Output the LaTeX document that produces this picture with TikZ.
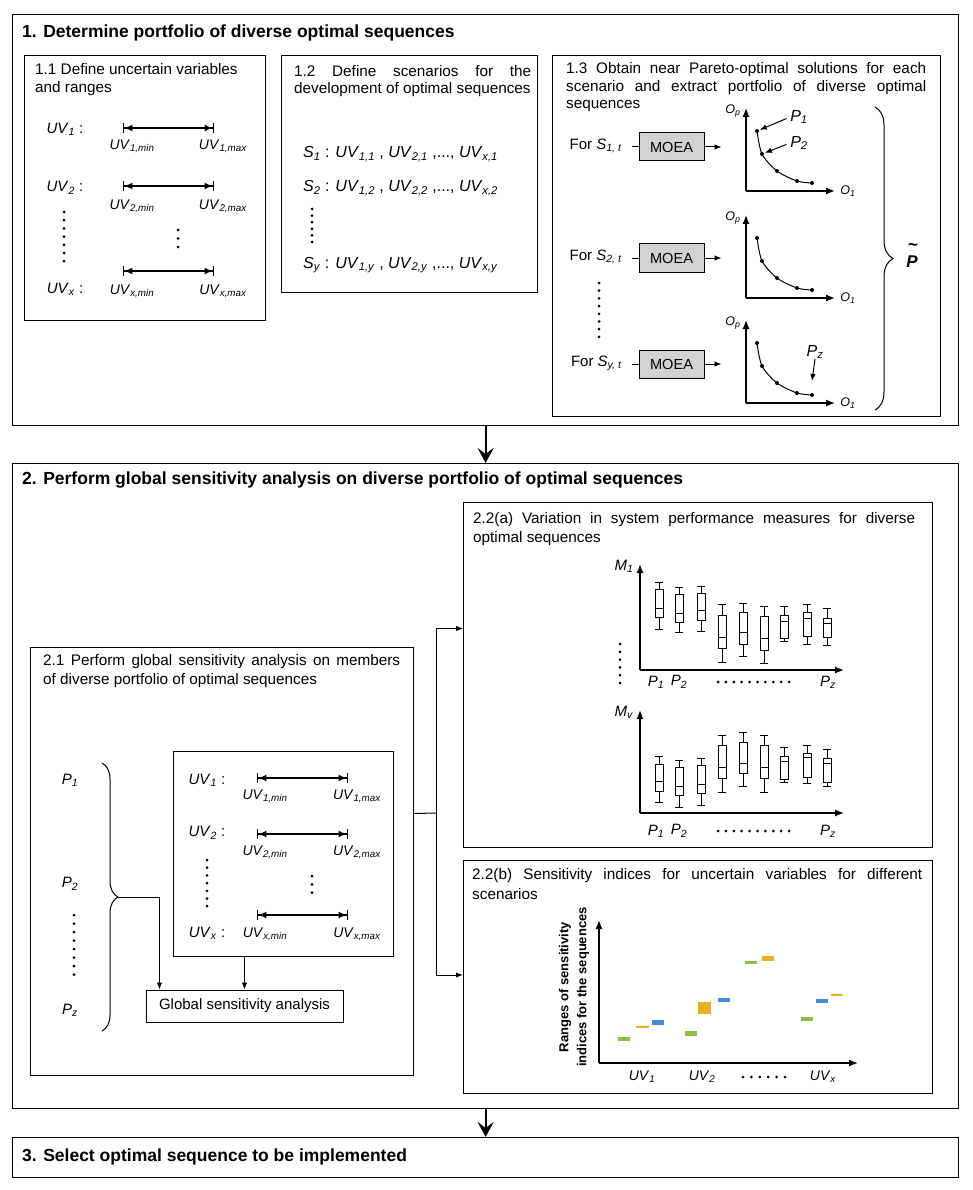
\documentclass[tikz,border=0pt]{standalone}
\usepackage{fontspec}
\setmainfont{Liberation Sans}
\usepackage{tikz}
\usetikzlibrary{positioning}
\usetikzlibrary{arrows}
\usetikzlibrary{arrows.meta}
\usetikzlibrary{decorations.pathreplacing}

\newcommand{\uv}[1]{\textit{UV}\textsubscript{\textit{#1}}}
\newcommand{\vsub}[2]{\textit{#1}\textsubscript{\textit{#2}}}

\definecolor{bargreen}{RGB}{140,190,70}
\definecolor{barorange}{RGB}{230,178,40}
\definecolor{barblue}{RGB}{70,140,220}

\tikzset{
    mainbox/.style={draw,line width=1.2pt,anchor=north west,inner sep=0pt},
    subbox/.style={draw,line width=1pt,anchor=north west,inner sep=0pt},
    heading/.style={anchor=west,inner sep=0pt,font=\fontsize{17.5}{21}\selectfont\bfseries},
    para/.style={anchor=north west,inner sep=0pt,align=justify,font=\fontsize{15.3}{19.3}\selectfont},
    tightpara/.style={para,font=\fontsize{15.3}{17.4}\selectfont},
    txt/.style={inner sep=0pt,font=\fontsize{15}{18}\selectfont},
    var/.style={inner sep=0pt,font=\fontsize{15}{18}\selectfont},
    lim/.style={inner sep=0pt,font=\fontsize{14}{16}\selectfont},
    spanarrow/.style={{Bar[width=10pt] Latex[length=8pt,width=7pt]}-{Latex[length=8pt,width=7pt] Bar[width=10pt]},line width=1.4pt},
    moea/.style={draw,fill=gray!35,line width=1pt,minimum width=65pt,minimum height=28pt,font=\fontsize{14.6}{17}\selectfont},
    flow/.style={-{Stealth[length=15pt,width=16pt,inset=6pt]},line width=2.2pt},
    link/.style={-{Latex[length=7pt,width=5.5pt]},line width=1pt},
    axis/.style={-{Latex[length=9pt,width=7pt]},line width=1.3pt},
}

\begin{document}
\begin{tikzpicture}[x=1pt,y=-1pt]
    \useasboundingbox (0,0) rectangle (972,1190);
    % the three steps
    \node[mainbox,minimum width=946pt,minimum height=411pt] (step1) at (12,14) {};
    \node[mainbox,minimum width=946pt,minimum height=645pt] (step2) at (12,463) {};
    \node[mainbox,minimum width=946pt,minimum height=40pt] (step3) at (12,1137) {};
    \node[heading] (head1) at (22,33) {1. Determine portfolio of diverse optimal sequences};
    \node[heading] (head2) at (22,480) {2. Perform global sensitivity analysis on diverse portfolio of optimal sequences};
    \node[heading] (head3) at (22,1157) {3. Select optimal sequence to be implemented};
    \draw[flow] (step1.south) -- (step2.north);
    \draw[flow] (step2.south) -- (step3.north);

    % 1.1
    \node[subbox,minimum width=241pt,minimum height=265pt] (rangebox) at (24,55) {};
    \node[tightpara,align=left] (rangetext) at (35,63.5) {1.1 Define uncertain variables\\and ranges};
    \foreach \vy/\ty/\ly/\i in {128/129/146/1,186/188/206/2,271/289/291/x} {
        \node[var] (uv\i) at (65,\ty) {\uv{\i} :};
        \draw[spanarrow] (123,\vy) -- (214,\vy);
        \node[lim] (uvmin\i) at (132,\ly) {\uv{\i,min}};
        \node[lim] (uvmax\i) at (223,\ly) {\uv{\i,max}};
    }
    \foreach \k in {0,...,6}
        \fill (64,212+8.2*\k) circle (1.5);
    \foreach \k in {0,1,2}
        \fill (178,230+8.5*\k) circle (1.5);

    % 1.2
    \node[subbox,minimum width=256pt,minimum height=237pt] (scenbox) at (281,55) {};
    \node[tightpara,text width=237pt] (scentext) at (294,65) {1.2 Define scenarios for the\linebreak development of optimal sequences};
    \foreach \sy/\j in {154/1,188/2,265/y}
        \node[var,anchor=west,font=\fontsize{16}{18}\selectfont] (scen\j) at (303,\sy) {\vsub{S}{\j} :\hspace{6pt}\uv{1,\j} , \uv{2,\j} ,..., \uv{x,\j}};
    \foreach \k in {0,...,5}
        \fill (312,209+6.6*\k) circle (1.5);

    % 1.3
    \node[subbox,minimum width=388pt,minimum height=361pt] (paretobox) at (552,55) {};
    \node[tightpara,text width=360pt] (paretotext) at (566,62.5) {1.3 Obtain near Pareto-optimal solutions for each\linebreak scenario and extract portfolio of diverse optimal\linebreak sequences};
    \foreach \my/\s/\nm in {147/1/a,258/2/b,364/y/c} {
        \node[moea] (moea\nm) at (671.5,\my) {MOEA};
        \node[txt,anchor=east] (for\nm) at (622,\my-1) {For \vsub{S}{\s, t}};
        \draw[line width=1pt] (moea\nm.west) -- ++(-7,0);
        \draw[link] (moea\nm.east) -- ++(17,0);
    }
    \foreach \oy/\nm in {191/a,298/b,403/c} {
        \draw[axis] (746,\oy) -- (746,\oy-83);
        \draw[axis] (746,\oy) -- (835,\oy);
        \node[lim,font=\fontsize{12.5}{15}\selectfont] (op\nm) at (733,\oy-80) {\vsub{O}{p}};
        \node[lim,font=\fontsize{12.5}{15}\selectfont] (oa\nm) at (848,\oy) {\vsub{O}{1}};
        \begin{scope}[shift={(746,\oy)}]
            \draw[line width=1pt] plot[smooth] coordinates {(11,-60) (16,-37) (31,-20) (51,-10) (66,-8)};
            \foreach \px/\py/\q in {11/-60/1,16/-37/2,31/-20/3,51/-10/4,66/-8/5}
                \fill (\px,\py) circle (2) coordinate (\nm\q);
        \end{scope}
    }
    \node[var,font=\fontsize{16}{18}\selectfont] (p1lab) at (799,117) {\vsub{P}{1}};
    \node[var,font=\fontsize{16}{18}\selectfont] (p2lab) at (799,143) {\vsub{P}{2}};
    \node[var,font=\fontsize{16}{18}\selectfont] (pzlab) at (815,352) {\vsub{P}{z}};
    \draw[link,shorten <=4pt,shorten >=3pt] (p1lab.west) -- (a1);
    \draw[link,shorten <=4pt,shorten >=3pt] (p2lab.west) -- (a2);
    \draw[link] (pzlab.south) -- ([yshift=14pt]c5);
    \foreach \k in {0,...,7}
        \fill (599,283+7.7*\k) circle (1.5);
    \draw[decorate,decoration={brace,amplitude=18pt},line width=1pt] (875,107) -- (875,410);
    \node[font=\fontsize{17}{20}\selectfont\bfseries\itshape,inner sep=0pt] (ptilde) at (912,262) {P};
    \node[font=\fontsize{17}{20}\selectfont\bfseries,inner sep=0pt] (tilde) at (913,247) {\textasciitilde};

    % 2.1
    \node[subbox,minimum width=383pt,minimum height=428pt] (gsabox) at (30,647) {};
    \node[para,text width=357pt] (gsatext) at (43,654) {2.1 Perform global sensitivity analysis on members\linebreak of diverse portfolio of optimal sequences};
    \node[subbox,minimum width=220pt,minimum height=205pt] (varbox) at (173,751) {};
    \foreach \vy/\ty/\ly/\i in {778/780/796/1,834/833/852/2,915/933/934/x} {
        \node[var] (guv\i) at (207,\ty) {\uv{\i} :};
        \draw[spanarrow] (257,\vy) -- (348,\vy);
        \node[lim] (guvmin\i) at (265,\ly) {\uv{\i,min}};
        \node[lim] (guvmax\i) at (357,\ly) {\uv{\i,max}};
    }
    \foreach \k in {0,...,6}
        \fill (207,860+7.7*\k) circle (1.5);
    \foreach \k in {0,1,2}
        \fill (312,876+8.3*\k) circle (1.5);
    \node[var] (seq1) at (70,780) {\vsub{P}{1}};
    \node[var] (seq2) at (70,884) {\vsub{P}{2}};
    \node[var] (seqz) at (70,1010) {\vsub{P}{z}};
    \foreach \k in {0,...,7}
        \fill (74,915+8.5*\k) circle (1.5);
    \draw[decorate,decoration={brace,amplitude=16pt},line width=1pt] (102,763) -- (102,1031);
    \coordinate (ptip) at (118,897);
    \node[draw,line width=1pt,minimum width=197pt,minimum height=32pt,txt] (gsa) at (244.5,1006) {Global sensitivity analysis};
    \draw[link] (ptip) -| ([xshift=14pt]gsa.north west);
    \draw[link] (varbox.south -| gsa.north) -- (gsa.north);

    % 2.2(a)
    \node[subbox,minimum width=469pt,minimum height=345pt] (perfbox) at (463,502) {};
    \node[para,text width=442pt] (perftext) at (473,512) {2.2(a) Variation in system performance measures for diverse\linebreak optimal sequences};
    \draw[axis] (640,670) -- (640,564);
    \draw[axis] (640,670) -- (844,670);
    \draw[axis] (640,813) -- (640,710);
    \draw[axis] (640,813) -- (844,813);
    \node[var] (m1) at (624,566) {\vsub{M}{1}};
    \node[var] (mv) at (624,712) {\vsub{M}{v}};
    \foreach \bx/\wt/\bt/\md/\bb/\wb in {
        659/582/589/608/617/629, 679/587/594/613/622/632, 701/586/593/610/620/631,
        722/604/615/637/648/662, 743/603/612/632/644/656, 764/606/616/638/650/663,
        784/606/615/621/638/641, 807/604/612/618/636/644, 827/608/618/623/637/645,
        659/756/764/781/791/802, 679/760/767/786/795/807, 701/758/765/784/793/805,
        722/735/745/767/778/792, 743/732/742/763/773/786, 764/735/745/767/778/792,
        784/747/756/761/779/782, 807/745/753/757/777/783, 827/749/758/763/782/786}
        \draw[line width=1pt] (\bx-4,\wt) -- (\bx+4,\wt) (\bx,\wt) -- (\bx,\bt)
            (\bx-4,\bt) rectangle (\bx+4,\bb) (\bx-4,\md) -- (\bx+4,\md)
            (\bx,\bb) -- (\bx,\wb) (\bx-4,\wb) -- (\bx+4,\wb);
    \foreach \ly/\r in {682/a,831/b} {
        \node[var] (first\r) at (656,\ly) {\vsub{P}{1}};
        \node[var] (second\r) at (679,\ly) {\vsub{P}{2}};
        \node[var] (last\r) at (828,\ly) {\vsub{P}{z}};
        \foreach \k in {0,...,9}
            \fill (718+7.9*\k,\ly) circle (1.5);
    }
    \foreach \k in {0,...,5}
        \fill (620,644+7.8*\k) circle (1.5);

    % 2.2(b)
    \node[subbox,minimum width=469pt,minimum height=233pt] (sensbox) at (463,860) {};
    \node[para,text width=450pt] (senstext) at (472,868.5) {2.2(b) Sensitivity indices for uncertain variables for different\linebreak scenarios};
    \draw[axis] (599,1063) -- (599,920);
    \draw[axis] (599,1063) -- (858,1063);
    \node[txt,rotate=90,align=center,font=\fontsize{13}{18}\selectfont\bfseries] (ylab) at (574,987) {Ranges of sensitivity\\indices for the sequences};
    \foreach \cx/\cy/\w/\h/\col in {
        624/1039/12/4/bargreen, 642/1027/13/2.5/barorange, 658/1022/12/5/barblue,
        691/1033/12/5/bargreen, 704/1008/13/12/barorange, 724/1000/12/4/barblue,
        751/962/12/3/bargreen, 768/958/12/5/barorange,
        807/1019/12/4/bargreen, 822/1001/12/4/barblue, 837/995/12/2.5/barorange}
        \fill[\col] (\cx-\w/2,\cy-\h/2) rectangle (\cx+\w/2,\cy+\h/2);
    \node[var,font=\fontsize{14}{16}\selectfont] (uvaxis1) at (642,1077) {\uv{1}};
    \node[var,font=\fontsize{14}{16}\selectfont] (uvaxis2) at (702,1077) {\uv{2}};
    \node[var,font=\fontsize{14}{16}\selectfont] (uvaxisx) at (823,1077) {\uv{x}};
    \foreach \k in {0,...,5}
        \fill (743+8.4*\k,1077) circle (1.5);

    % from 2.1 to 2.2
    \coordinate (split) at (436,813);
    \draw[line width=1pt] ([yshift=48pt]gsabox.east) -- (split);
    \draw[link] (split) |- ([yshift=46.5pt]perfbox.west);
    \draw[link] (split) |- (sensbox.west |- 0,975);
\end{tikzpicture}
\end{document}
